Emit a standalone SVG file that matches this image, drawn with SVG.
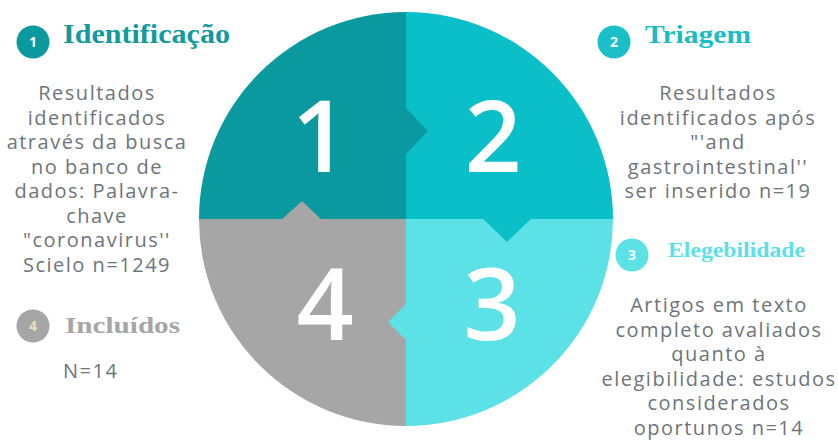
<svg xmlns="http://www.w3.org/2000/svg" width="838" height="446" viewBox="0 0 838 446">
<style>
.body{font-family:"Open Sans","Liberation Sans",sans-serif;font-size:20px;fill:#6d7579;text-anchor:middle;letter-spacing:1.5px}
.title{font-family:"Liberation Serif","DejaVu Serif",serif;font-weight:bold}
.badge{font-family:"Open Sans","Liberation Sans",sans-serif;font-weight:bold;font-size:14px;text-anchor:middle;fill:#ffffff}
.big{font-family:"Open Sans","Liberation Sans",sans-serif;font-weight:600;font-size:100px;text-anchor:middle;fill:#ffffff}
</style>
<rect width="838" height="446" fill="#ffffff"/>
<g id="wheel">
  <g id="q1">
    <path d="M406,219 L199,219 A207,207 0 0 1 406,12 Z" fill="#0A999E"/>
  </g>
  <g id="q2">
    <path d="M406,219 L406,12 A207,207 0 0 1 613,219 Z" fill="#0ABFC8"/>
  </g>
  <g id="q3">
    <path d="M406,219 L613,219 A207,207 0 0 1 406,426 Z" fill="#5CE1E6"/>
  </g>
  <g id="q4">
    <path d="M406,219 L406,426 A207,207 0 0 1 199,219 Z" fill="#A6A6A6"/>
  </g>
  <g id="connectors">
    <polygon points="405,107 428,131 405,155" fill="#0A999E"/>
    <polygon points="482,218 507,242 532,218" fill="#0ABFC8"/>
    <polygon points="407,303 388,322 407,341" fill="#5CE1E6"/>
    <polygon points="281,220 302,201 322,220" fill="#A6A6A6"/>
  </g>
  <text class="big" x="320" y="172">1</text>
  <text class="big" x="493" y="172">2</text>
  <text class="big" x="492" y="340">3</text>
  <text class="big" x="325" y="340">4</text>
</g>
<g id="step1">
  <circle cx="33" cy="42" r="16.5" fill="#0A999E"/>
  <text class="badge" x="33" y="47">1</text>
  <text class="title" x="63" y="43" font-size="27" textLength="167" lengthAdjust="spacingAndGlyphs" fill="#139A9C">Identificação</text>
  <text class="body"><tspan x="97" y="100">Resultados</tspan><tspan x="97" y="124.5">identificados</tspan><tspan x="97" y="149">através da busca</tspan><tspan x="97" y="173.5">no banco de</tspan><tspan x="97" y="198">dados: Palavra-</tspan><tspan x="97" y="222.5">chave</tspan><tspan x="97" y="247">"coronavirus''</tspan><tspan x="97" y="271.5">Scielo n=1249</tspan></text>
</g>
<g id="step2">
  <circle cx="614" cy="42" r="16.5" fill="#1ABFC7"/>
  <text class="badge" x="614" y="47">2</text>
  <text class="title" x="645" y="43" font-size="25" textLength="106" lengthAdjust="spacingAndGlyphs" fill="#1ABDC4">Triagem</text>
  <text class="body"><tspan x="718" y="100">Resultados</tspan><tspan x="718" y="124.5">identificados após</tspan><tspan x="718" y="149">"'and</tspan><tspan x="718" y="173.5">gastrointestinal''</tspan><tspan x="718" y="198">ser inserido n=19</tspan></text>
</g>
<g id="step3">
  <circle cx="632" cy="255" r="16.5" fill="#5CE1E6"/>
  <text class="badge" x="632" y="260">3</text>
  <text class="title" x="668" y="257" font-size="21" textLength="137" lengthAdjust="spacingAndGlyphs" fill="#5CE1E6">Elegebilidade</text>
  <text class="body"><tspan x="719" y="312">Artigos em texto</tspan><tspan x="719" y="336.5">completo avaliados</tspan><tspan x="719" y="361">quanto à</tspan><tspan x="719" y="385.5">elegibilidade: estudos</tspan><tspan x="719" y="410">considerados</tspan><tspan x="719" y="434.5">oportunos n=14</tspan></text>
</g>
<g id="step4">
  <circle cx="33" cy="326" r="16.5" fill="#A6A6A6"/>
  <text class="badge" x="33" y="331" style="fill:#EADFC0">4</text>
  <text class="title" x="65" y="333" font-size="24" textLength="115" lengthAdjust="spacingAndGlyphs" fill="#A6A6A6">Incluídos</text>
  <text class="body" x="63" y="378" style="text-anchor:start">N=14</text>
</g>
</svg>
